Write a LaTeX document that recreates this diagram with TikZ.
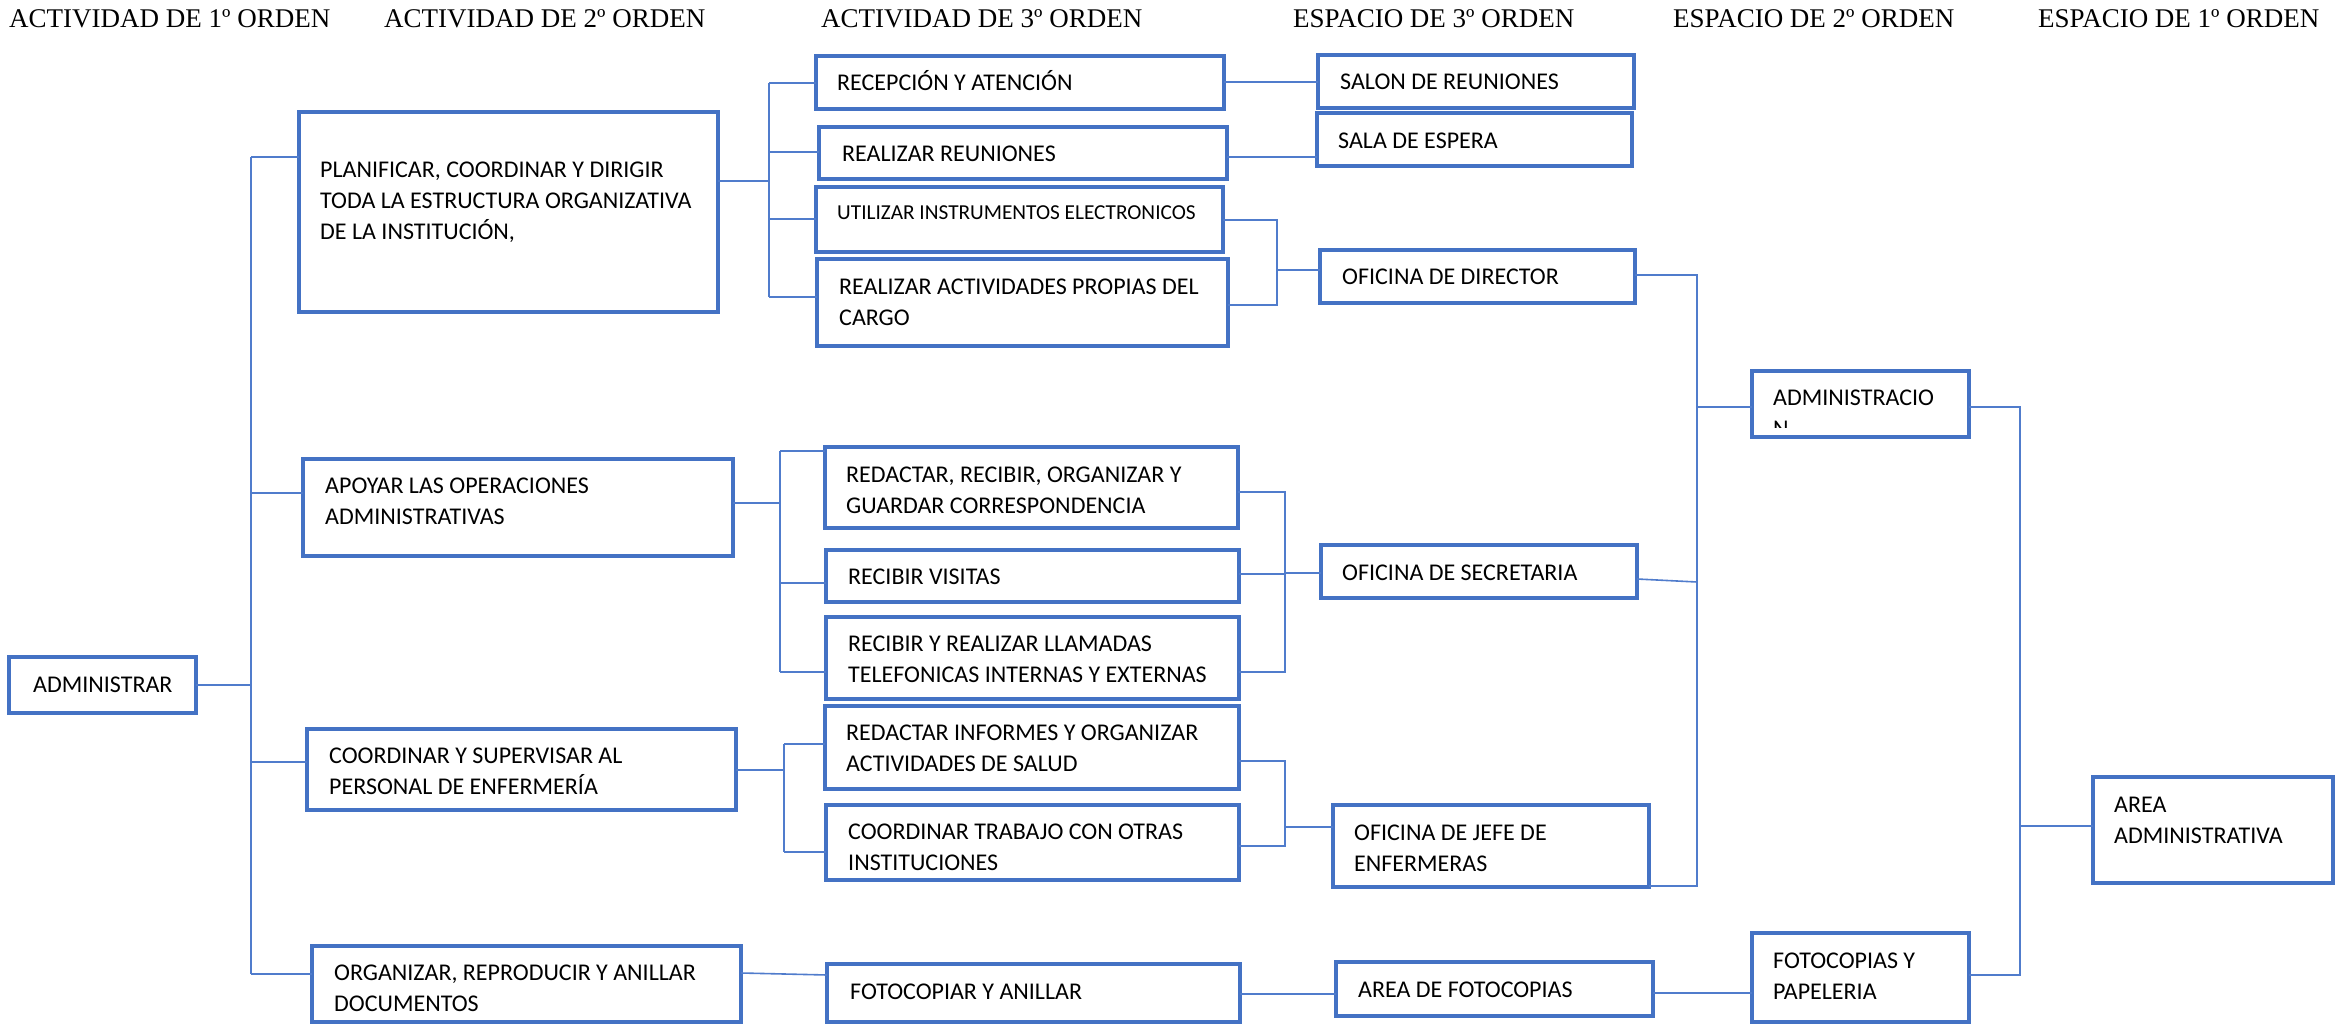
\documentclass[tikz,border=0pt]{standalone}
\usepackage{fontspec}
\setmainfont{Carlito}
\newfontfamily\hdrfont{Liberation Serif}
\usetikzlibrary{calc}
\definecolor{marco}{RGB}{68,114,196}
\definecolor{linea}{RGB}{80,124,204}

\tikzset{
  caja/.style={draw=marco, line width=3.2pt, fill=white, inner sep=0pt, outer sep=0pt},
  txt/.style={inner sep=0pt, anchor=north west, align=left, font=\fontsize{24}{31}\selectfont},
  txtsm/.style={txt, font=\fontsize{21.3}{31}\selectfont},
  hdr/.style={inner sep=0pt, anchor=base west, font=\hdrfont\fontsize{27}{30}\selectfont},
  con/.style={draw=linea, line width=1.6pt},
}

% box from its corners: name, x1, y1, x2, y2
\newcommand\caja[5]{\node[caja, minimum width={(#4-#2)*1pt}, minimum height={(#5-#3)*1pt}] (#1) at ({(#2+#4)/2},{(#3+#5)/2}) {};}
% box text: [style], name, left x, first baseline, text
\newcommand\texto[5][txt]{\node[#1] (#2-t) at (#3,{#4-21.7}) {\strut #5};}

\begin{document}
\begin{tikzpicture}[x=1pt, y=-1pt]
\useasboundingbox (0,0) rectangle (2338,1024);
\fill[white] (0,0) rectangle (2338,1024);

% column headings
\node[hdr] (h1) at (9,28) {ACTIVIDAD DE 1º ORDEN};
\node[hdr] (h2) at (384,28) {ACTIVIDAD DE 2º ORDEN};
\node[hdr] (h3) at (821,28) {ACTIVIDAD DE 3º ORDEN};
\node[hdr] (h4) at (1293,28) {ESPACIO DE 3º ORDEN};
\node[hdr] (h5) at (1673,28) {ESPACIO DE 2º ORDEN};
\node[hdr] (h6) at (2038,28) {ESPACIO DE 1º ORDEN};

% boxes
\caja{adm}{9}{657}{196}{713}
\caja{plan}{299}{112}{718}{312}
\caja{apoy}{303}{459}{733}{556}
\caja{coor}{307}{729}{736}{810}
\caja{orga}{312}{946}{741}{1022}
\caja{rece}{816}{56}{1224}{109}
\caja{reun}{819}{127}{1227}{179}
\caja{util}{816}{187}{1223}{252}
\caja{acti}{817}{259}{1228}{346}
\caja{reda}{825}{447}{1238}{528}
\caja{visi}{826}{550}{1239}{602}
\caja{llam}{826}{617}{1239}{699}
\caja{info}{825}{706}{1239}{789}
\caja{trab}{826}{805}{1239}{880}
\caja{foto}{827}{964}{1240}{1022}
\caja{salon}{1318}{55}{1634}{108}
\caja{sala}{1317}{113}{1632}{166}
\caja{dire}{1320}{250}{1635}{303}
\caja{secr}{1321}{545}{1637}{598}
\caja{jefe}{1333}{805}{1649}{887}
\caja{afot}{1336}{962}{1653}{1016}
\caja{admn}{1752}{371}{1969}{437}
\caja{fpap}{1752}{933}{1969}{1022}
\caja{area}{2093}{777}{2333}{883}

% box texts
\texto{adm}{33}{692}{ADMINISTRAR}
\texto{plan}{320}{177}{PLANIFICAR, COORDINAR Y DIRIGIR\\TODA LA ESTRUCTURA ORGANIZATIVA\\DE LA INSTITUCIÓN,}
\texto{apoy}{325}{493}{APOYAR LAS OPERACIONES\\ADMINISTRATIVAS}
\texto{coor}{329}{763}{COORDINAR Y SUPERVISAR AL\\PERSONAL DE ENFERMERÍA}
\texto{orga}{334}{980}{ORGANIZAR, REPRODUCIR Y ANILLAR\\DOCUMENTOS}
\texto{rece}{837}{90}{RECEPCIÓN Y ATENCIÓN}
\texto{reun}{842}{161}{REALIZAR REUNIONES}
\texto[txtsm]{util}{837}{219}{UTILIZAR INSTRUMENTOS ELECTRONICOS}
\texto{acti}{839}{294}{REALIZAR ACTIVIDADES PROPIAS DEL\\CARGO}
\texto{reda}{846}{482}{REDACTAR, RECIBIR, ORGANIZAR Y\\GUARDAR CORRESPONDENCIA}
\texto{visi}{848}{584}{RECIBIR VISITAS}
\texto{llam}{848}{651}{RECIBIR Y REALIZAR LLAMADAS\\TELEFONICAS INTERNAS Y EXTERNAS}
\texto{info}{846}{740}{REDACTAR INFORMES Y ORGANIZAR\\ACTIVIDADES DE SALUD}
\texto{trab}{848}{839}{COORDINAR TRABAJO CON OTRAS\\INSTITUCIONES}
\texto{foto}{850}{999}{FOTOCOPIAR Y ANILLAR}
\texto{salon}{1340}{89}{SALON DE REUNIONES}
\texto{sala}{1338}{148}{SALA DE ESPERA}
\texto{dire}{1342}{284}{OFICINA DE DIRECTOR}
\texto{secr}{1342}{580}{OFICINA DE SECRETARIA}
\texto{jefe}{1354}{840}{OFICINA DE JEFE DE\\ENFERMERAS}
\texto{afot}{1358}{997}{AREA DE FOTOCOPIAS}
\begin{scope}
  \clip (1752,371) rectangle (1969,427);
  \texto{admn}{1773}{405}{ADMINISTRACIO\\N}
\end{scope}
\texto{fpap}{1773}{968}{FOTOCOPIAS Y\\PAPELERIA}
\texto{area}{2114}{812}{AREA\\ADMINISTRATIVA}

% first order activity to second order activities
\draw[con] (adm.east) -- (adm.east -| 251,0);
\draw[con] (251,157) -- (251,974);
\draw[con] (251,157) -- (plan.west |- 0,157);
\draw[con] (251,493) -- (apoy.west |- 0,493);
\draw[con] (251,762) -- (coor.west |- 0,762);
\draw[con] (251,974) -- (orga.west |- 0,974);

% second order to third order activities
\draw[con] (plan.east |- 0,181) -- (769,181);
\draw[con] (769,83) -- (769,297);
\draw[con] (769,83) -- (rece.west |- 0,83);
\draw[con] (769,152) -- (reun.west |- 0,152);
\draw[con] (769,219) -- (util.west |- 0,219);
\draw[con] (769,297) -- (acti.west |- 0,297);

\draw[con] (apoy.east |- 0,503) -- (780,503);
\draw[con] (780,451) -- (780,672);
\draw[con] (780,451) -- (reda.west |- 0,451);
\draw[con] (780,583) -- (visi.west |- 0,583);
\draw[con] (780,672) -- (llam.west |- 0,672);

\draw[con] (coor.east |- 0,770) -- (784,770);
\draw[con] (784,744) -- (784,852);
\draw[con] (784,744) -- (info.west |- 0,744);
\draw[con] (784,852) -- (trab.west |- 0,852);

\draw[con] (orga.east |- 0,973) -- (foto.west |- 0,975);

% third order activities to third order spaces
\draw[con] (rece.east |- 0,82) -- (salon.west |- 0,82);
\draw[con] (reun.east |- 0,157) -- (sala.west |- 0,157);
\draw[con] (util.east |- 0,220) -- (1277,220) -- (1277,305) -- (acti.east |- 0,305);
\draw[con] (1277,270) -- (dire.west |- 0,270);
\draw[con] (reda.east |- 0,492) -- (1285,492) -- (1285,672) -- (llam.east |- 0,672);
\draw[con] (visi.east |- 0,574) -- (1285,574);
\draw[con] (1285,573) -- (secr.west |- 0,573);
\draw[con] (info.east |- 0,761) -- (1285,761) -- (1285,846) -- (trab.east |- 0,846);
\draw[con] (1285,827) -- (jefe.west |- 0,827);
\draw[con] (foto.east |- 0,994) -- (afot.west |- 0,994);

% spaces of third, second and first order
\draw[con] (dire.east |- 0,275) -- (1697,275) -- (1697,886) -- (jefe.east |- 0,886);
\draw[con] (secr.east |- 0,579) -- (1697,582);
\draw[con] (1697,407) -- (admn.west |- 0,407);
\draw[con] (afot.east |- 0,993) -- (fpap.west |- 0,993);
\draw[con] (admn.east |- 0,407) -- (2020,407) -- (2020,975) -- (fpap.east |- 0,975);
\draw[con] (2020,826) -- (area.west |- 0,826);
\end{tikzpicture}
\end{document}
